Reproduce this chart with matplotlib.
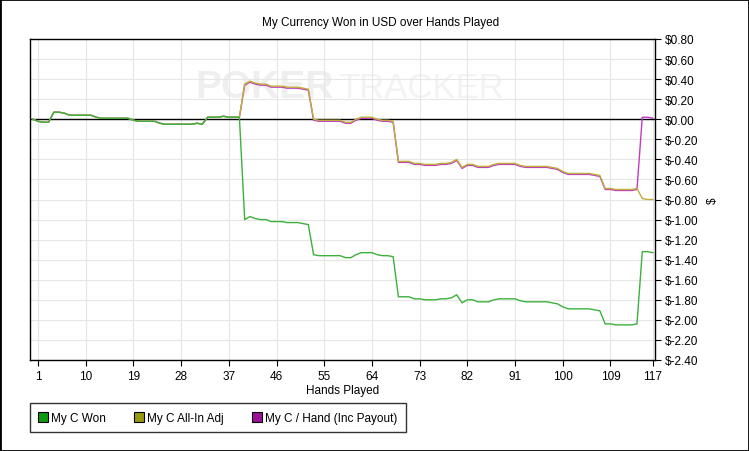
import matplotlib
matplotlib.use("Agg")
import matplotlib.pyplot as plt
from matplotlib.lines import Line2D
from matplotlib.patches import Rectangle
from matplotlib.ticker import FuncFormatter

plt.rcParams['font.family'] = ['Liberation Sans', 'DejaVu Sans']

hands = list(range(0, 118))
x_ticks = [1, 10, 19, 28, 37, 46, 55, 64, 73, 82, 91, 100, 109, 117]
y_ticks = [0.8, 0.6, 0.4, 0.2, 0.0, -0.2, -0.4, -0.6, -0.8, -1.0,
           -1.2, -1.4, -1.6, -1.8, -2.0, -2.2, -2.4]

# hands 0-39: all three series coincide
early = [0.00, -0.02, -0.03, -0.03, 0.07, 0.07, 0.06, 0.04, 0.04, 0.04,
         0.04, 0.04, 0.02, 0.01, 0.01, 0.01, 0.01, 0.01, 0.01, -0.01,
         -0.02, -0.02, -0.02, -0.02, -0.04, -0.05, -0.05, -0.05, -0.05, -0.05,
         -0.05, -0.04, -0.05, 0.02, 0.02, 0.02, 0.03, 0.02, 0.02, 0.02]

won = early + [
    -1.00, -0.97, -0.99, -1.00, -1.00, -1.02, -1.02, -1.02, -1.03, -1.03,
    -1.03, -1.04, -1.05, -1.35, -1.36, -1.36, -1.36, -1.36, -1.36, -1.38,
    -1.38, -1.35, -1.33, -1.33, -1.33, -1.35, -1.36, -1.36, -1.37, -1.77,
    -1.77, -1.77, -1.79, -1.79, -1.80, -1.80, -1.80, -1.79, -1.79, -1.78,
    -1.75, -1.83, -1.80, -1.80, -1.82, -1.82, -1.82, -1.80, -1.79, -1.79,
    -1.79, -1.79, -1.81, -1.82, -1.82, -1.82, -1.82, -1.82, -1.83, -1.84,
    -1.87, -1.89, -1.89, -1.89, -1.89, -1.89, -1.90, -1.91, -2.04, -2.04,
    -2.05, -2.05, -2.05, -2.05, -2.04, -1.32, -1.32, -1.33]

allin_adj = early + [
    0.35, 0.38, 0.36, 0.35, 0.35, 0.33, 0.33, 0.33, 0.32, 0.32,
    0.32, 0.31, 0.30, 0.00, -0.01, -0.01, -0.01, -0.01, -0.01, -0.03,
    -0.03, 0.00, 0.02, 0.02, 0.02, 0.00, -0.01, -0.01, -0.02, -0.42,
    -0.42, -0.42, -0.44, -0.44, -0.45, -0.45, -0.45, -0.44, -0.44, -0.43,
    -0.40, -0.48, -0.45, -0.45, -0.47, -0.47, -0.47, -0.45, -0.44, -0.44,
    -0.44, -0.44, -0.46, -0.47, -0.47, -0.47, -0.47, -0.47, -0.48, -0.49,
    -0.52, -0.54, -0.54, -0.54, -0.54, -0.54, -0.55, -0.56, -0.69, -0.69,
    -0.70, -0.70, -0.70, -0.70, -0.69, -0.79, -0.80, -0.80]

per_hand = early + [
    0.34, 0.37, 0.35, 0.34, 0.34, 0.32, 0.32, 0.32, 0.31, 0.31,
    0.31, 0.30, 0.29, -0.01, -0.02, -0.02, -0.02, -0.02, -0.02, -0.04,
    -0.04, -0.01, 0.01, 0.01, 0.01, -0.01, -0.02, -0.02, -0.03, -0.43,
    -0.43, -0.43, -0.45, -0.45, -0.46, -0.46, -0.46, -0.45, -0.45, -0.44,
    -0.41, -0.49, -0.46, -0.46, -0.48, -0.48, -0.48, -0.46, -0.45, -0.45,
    -0.45, -0.45, -0.47, -0.48, -0.48, -0.48, -0.48, -0.48, -0.49, -0.50,
    -0.53, -0.55, -0.55, -0.55, -0.55, -0.55, -0.56, -0.57, -0.70, -0.70,
    -0.71, -0.71, -0.71, -0.71, -0.70, 0.02, 0.02, 0.01]

labels = ['My C Won', 'My C All-In Adj', 'My C / Hand (Inc Payout)']
line_colors = ['#3cb03c', '#bfae3a', '#c23ac2']
box_colors = ['#119911', '#999911', '#991199']


def draw_chart():
    fig = plt.figure(figsize=(7.49, 4.52), dpi=100)
    ax = fig.add_axes([30 / 749, 91 / 452, 625 / 749, 321 / 452])

    # watermark
    ax.text(0.264, 0.85, 'POKER', transform=ax.transAxes, color='#efefef',
            fontsize=28, fontweight='bold', va='center', ha='left', zorder=0)
    ax.text(0.493, 0.85, 'TRACKER', transform=ax.transAxes, color='#f3f3f3',
            fontsize=25, va='center', ha='left', zorder=0)

    ax.axhline(0, color='black', lw=1.0, zorder=2)
    ax.plot(hands, per_hand, color=line_colors[2], lw=1.0, zorder=3)
    ax.plot(hands, allin_adj, color=line_colors[1], lw=1.0, zorder=4)
    ax.plot(hands, won, color=line_colors[0], lw=1.0, zorder=5)

    ax.set_xlim(-0.5, 117.4)
    ax.set_ylim(-2.4, 0.8)
    ax.set_xticks(x_ticks)
    ax.set_yticks(y_ticks)
    ax.yaxis.set_major_formatter(FuncFormatter(lambda v, p: '${:.2f}'.format(v + 0.0)))
    ax.yaxis.tick_right()
    ax.yaxis.set_label_position('right')
    ax.tick_params(axis='both', direction='out', length=4, width=0.8,
                   labelsize=8.5, pad=3)
    ax.grid(True, color='#e6e6e6', lw=0.8)
    ax.set_axisbelow(True)
    for s in ax.spines.values():
        s.set_linewidth(1.0)

    ax.set_xlabel('Hands Played', fontsize=8.5, labelpad=2)
    ax.set_ylabel('$', fontsize=8.5, labelpad=6, rotation=90)
    fig.text(0.508, 0.949, 'My Currency Won in USD over Hands Played',
             fontsize=8.5, ha='center', va='center')

    handles = [Line2D([], [], marker='s', linestyle='none', markersize=6.5,
                      markerfacecolor=c, markeredgecolor='black',
                      markeredgewidth=0.8) for c in box_colors]
    leg = fig.legend(handles, labels, ncol=3, loc='lower left',
                     bbox_to_anchor=(30 / 749, 19 / 452), fontsize=8.5,
                     frameon=True, fancybox=False, handlelength=0.8,
                     handletextpad=0.3, columnspacing=2.4, borderpad=0.7,
                     borderaxespad=0)
    leg.get_frame().set_edgecolor('black')
    leg.get_frame().set_linewidth(1.0)

    fig.patches.append(Rectangle((0, 0), 1, 1, transform=fig.transFigure,
                                 fill=False, edgecolor='black', lw=2))
    fig.savefig('out.png', dpi=100)


if __name__ == '__main__':
    draw_chart()
